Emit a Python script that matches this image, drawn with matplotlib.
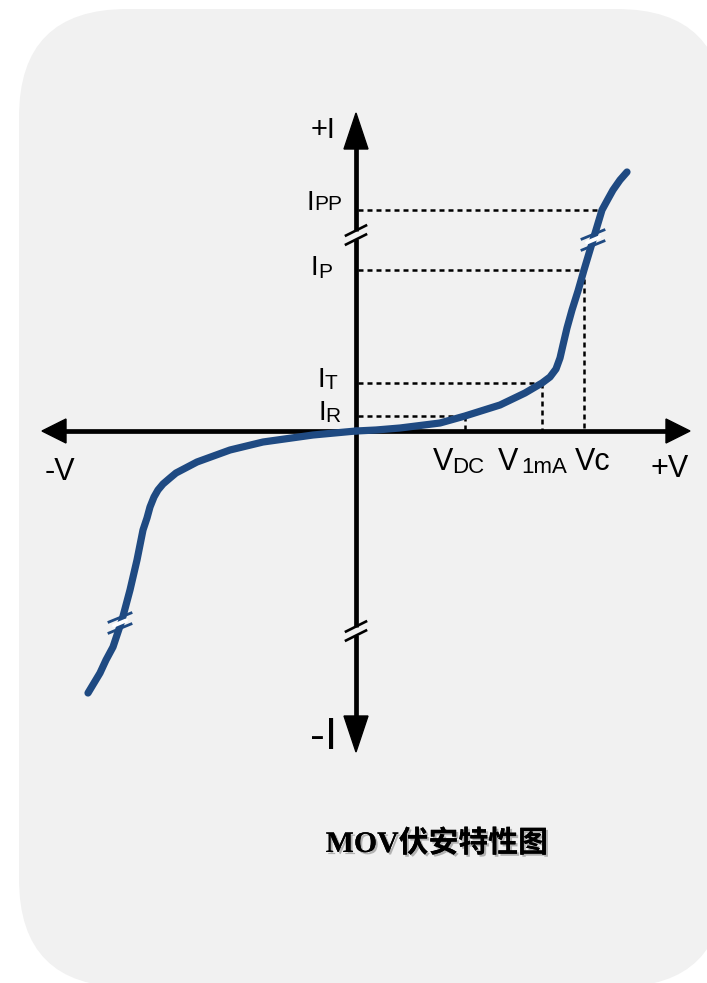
import matplotlib
matplotlib.use('Agg')
import matplotlib.pyplot as plt
from matplotlib.patches import FancyBboxPatch, Polygon
import matplotlib.patheffects as pe

# V-I curve of the varistor (axis units, origin at the axis crossing)
pos_v = [0, 20, 44, 84, 109, 144, 169, 186, 194, 200, 204, 207, 211, 216, 222, 228,
         237, 246, 252, 257, 264, 271]
pos_i = [0, 1, 3, 8, 15, 26, 38, 48, 54, 62, 73, 86, 103, 121, 140, 161,
         191, 221, 232, 241, 251, 259]
neg_v = [0, -43, -93, -126, -159, -180, -186, -193, -198, -202, -206, -209, -213, -219,
         -226, -234, -243, -250, -256, -262, -268]
neg_i = [0, -4, -11, -19, -31, -42, -47, -53, -59, -66, -76, -87, -99, -129,
         -159, -189, -216, -229, -242, -252, -262]

# current levels (I_PP, I_P, I_T, I_R) and where they meet the curve
level_i = [221, 161, 48, 15]
level_v = [246, 228, 186, 109]
# voltage marks V_DC, V_1mA, Vc
mark_v = [109, 186, 228]
mark_i = [15, 48, 161]

blue = '#1f4a82'
font = 'Liberation Sans'

fig = plt.figure(figsize=(7.07, 9.83), dpi=100)
fig.patch.set_facecolor('white')
ax = fig.add_axes([0, 0, 1, 1])
ax.set_xlim(-356, 351)
ax.set_ylim(-552, 431)
ax.axis('off')

# rounded grey panel
ax.add_patch(FancyBboxPatch((-337, -556), 706, 978,
                            boxstyle='round,pad=0,rounding_size=108',
                            fc='#f1f1f1', ec='none', zorder=0))

# axes with arrow heads
lw_ax = 3.4
ax.plot([-295, 312], [0, 0], color='black', lw=lw_ax, zorder=2, solid_capstyle='butt')
ax.add_patch(Polygon([[334, 0], [310, 12], [310, -12]], color='black', zorder=2))
ax.add_patch(Polygon([[-314, 0], [-290, 12], [-290, -12]], color='black', zorder=2))

for y0, y1 in [(285, 200), (192, -196), (-204, -287)]:
    ax.plot([0, 0], [y0, y1], color='black', lw=lw_ax, zorder=2, solid_capstyle='butt')
ax.add_patch(Polygon([[0, 318], [-12, 282], [12, 282]], color='black', zorder=2))
ax.add_patch(Polygon([[0, -321], [-12, -285], [12, -285]], color='black', zorder=2))

# break marks on the current axis
for c in [196, -200]:
    for off in [4.5, -4.5]:
        ax.plot([-10, 10], [c + off - 5, c + off + 5], color='black', lw=1.9, zorder=3)

# dotted guides
for li, lv in zip(level_i, level_v):
    ax.plot([2, lv], [li, li], color='black', lw=1.8, ls=(0, (2, 1.6)), zorder=1)
for mv, mi in zip(mark_v, mark_i):
    ax.plot([mv, mv], [mi, 0], color='black', lw=1.8, ls=(0, (2, 1.6)), zorder=1)

# curve
for vv, ii in [(pos_v, pos_i), (neg_v, neg_i)]:
    ax.plot(vv, ii, color=blue, lw=5.2, solid_capstyle='round',
            solid_joinstyle='round', zorder=4)

# break marks on the curve
for cv, ci in [(237, 191), (-236, -192)]:
    ax.plot([cv - 6, cv + 6], [ci - 2.5, ci + 2.5], color='white', lw=2.8,
            solid_capstyle='round', zorder=5)
    for off in [5.5, -5.5]:
        ax.plot([cv - 11, cv + 11], [ci + off - 4.5, ci + off + 4.5], color=blue, lw=2.0, zorder=5)

# labels
def lab(x, y, s, size):
    ax.text(x, y, s, fontsize=size, family=font, ha='left', va='baseline', zorder=6)

lab(-45, 293, '+I', 21)
lab(-50, 221, 'I', 20)
lab(-42, 221, 'PP', 15)
lab(-46, 156, 'I', 20)
lab(-38, 153, 'P', 15)
lab(-39, 44, 'I', 20)
lab(-32, 42, 'T', 15)
lab(-38, 11, 'I', 20)
lab(-31, 9, 'R', 15)
lab(77, -39, 'V', 22)
lab(96, -42, 'DC', 16)
lab(142, -39, 'V', 22)
lab(165, -42, '1mA', 16)
lab(219, -39, 'Vc', 22)
lab(294, -46, '+V', 22)
lab(-311, -49, '-V', 22)
lab(-46, -318, '-I', 32)

ax.text(81, -421, 'MOV伏安特性图', fontsize=21.5, family=['Liberation Serif', 'Noto Sans CJK SC'],
        weight='bold', ha='center', va='baseline', zorder=6,
        path_effects=[pe.withSimplePatchShadow(offset=(1.5, -1.5), shadow_rgbFace='#888888', alpha=0.6),
                      pe.Normal()])

fig.savefig('out.png', dpi=100, facecolor='white')
